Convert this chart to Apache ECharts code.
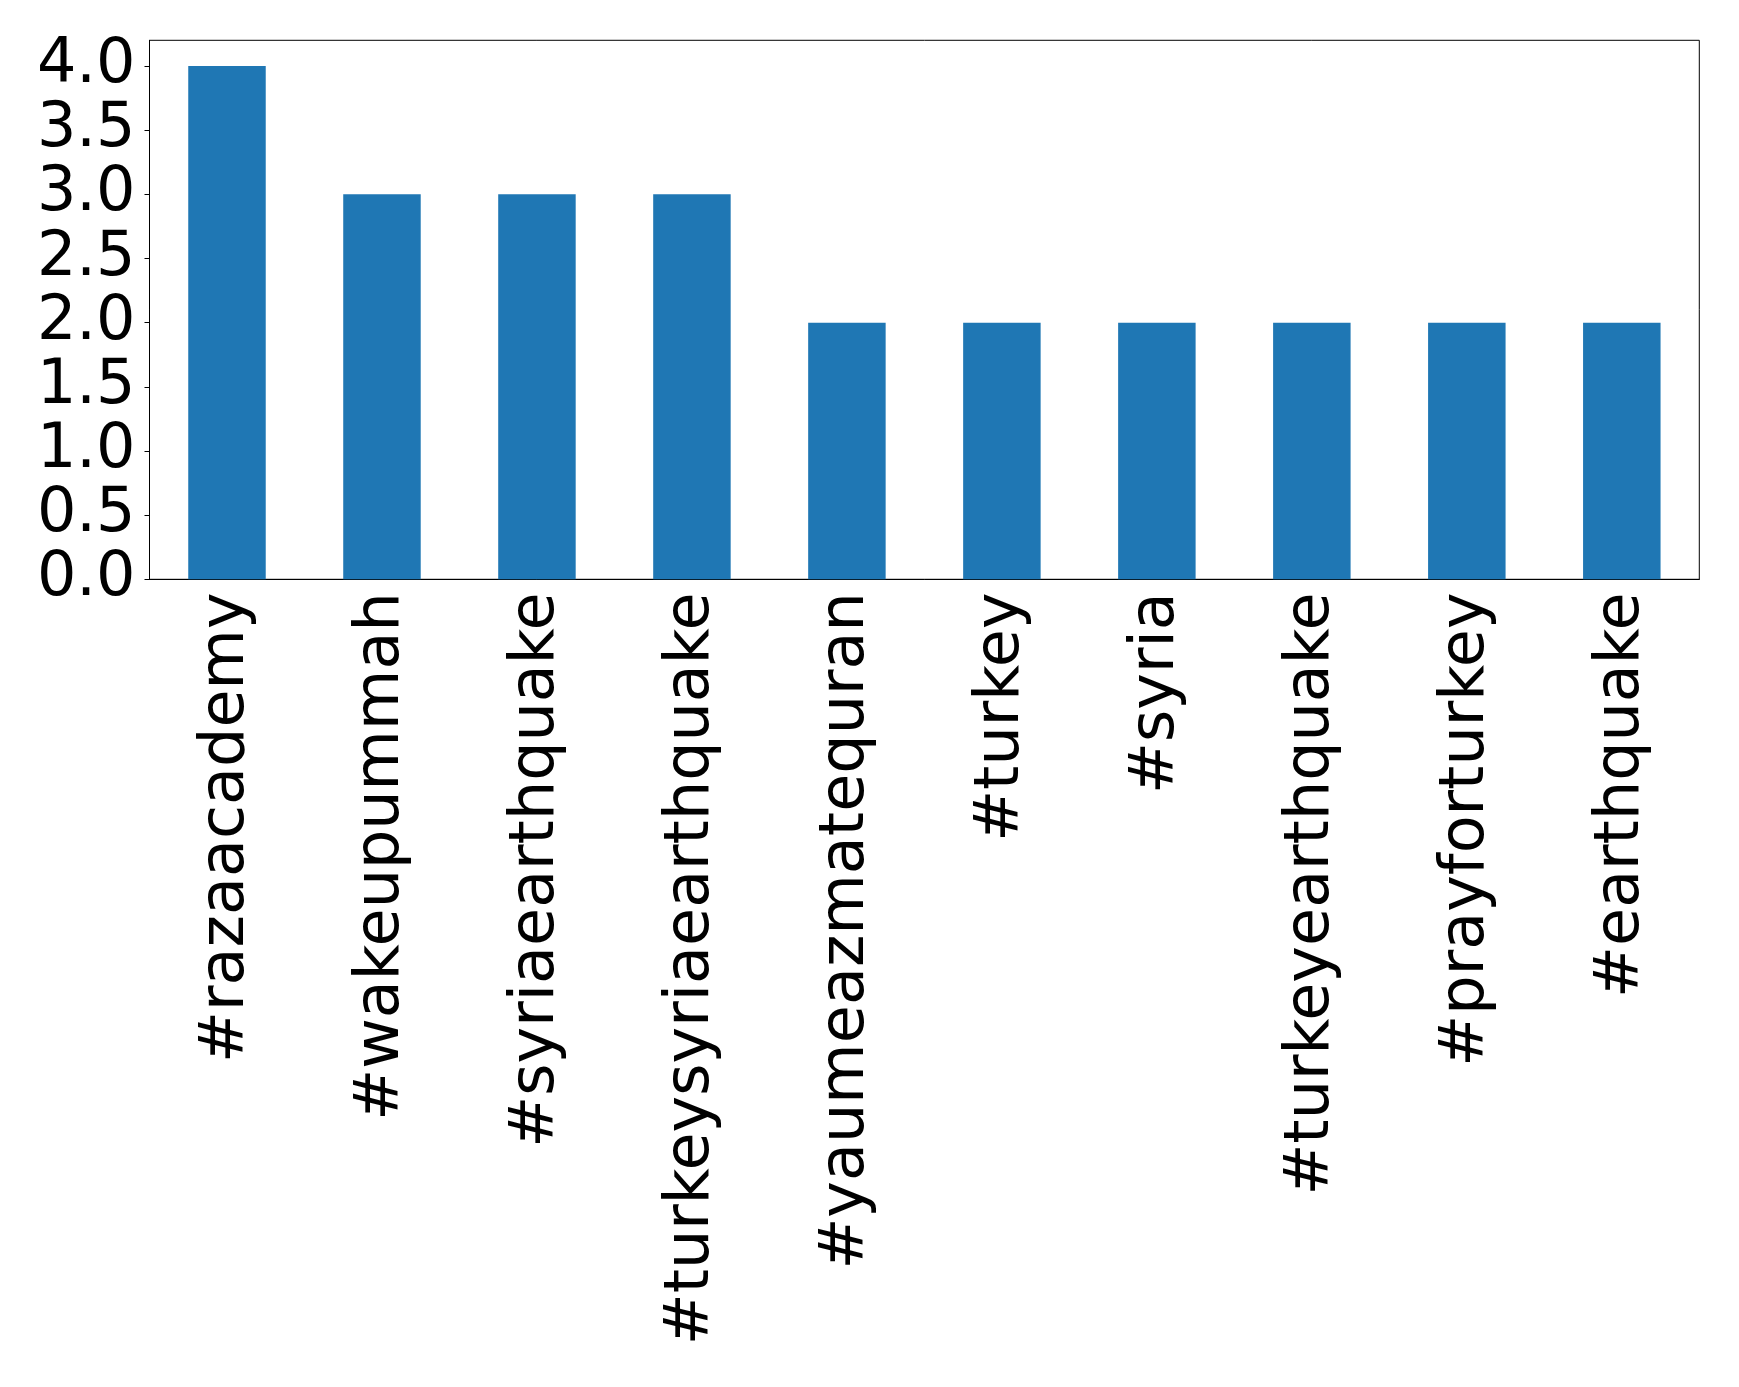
<!DOCTYPE html>
<html>
<head>
<meta charset="utf-8">
<script src="https://cdn.jsdelivr.net/npm/echarts@6/dist/echarts.min.js"></script>
<style>html,body{margin:0;padding:0;background:#fff}#c{width:1739px;height:1387px}</style>
</head>
<body>
<div id="c"></div>
<script>
var categories = ['#razaacademy', '#wakeupummah', '#syriaearthquake', '#turkeysyriaearthquake', '#yaumeazmatequran', '#turkey', '#syria', '#turkeyearthquake', '#prayforturkey', '#earthquake'];
var values = [4, 3, 3, 3, 2, 2, 2, 2, 2, 2];
var yTicks = [0, 0.5, 1.0, 1.5, 2.0, 2.5, 3.0, 3.5, 4.0];

var chart = echarts.init(document.getElementById('c'), null, {renderer: 'canvas'});
chart.setOption({
  animation: false,
  backgroundColor: '#ffffff',
  textStyle: {fontFamily: 'DejaVu Sans'},
  grid: {left: 149.5, right: 39.7, top: 40.3, bottom: 807.7, show: true, borderColor: '#000', borderWidth: 1, backgroundColor: 'transparent'},
  xAxis: {
    type: 'category',
    data: categories,
    boundaryGap: true,
    axisLine: {lineStyle: {color: '#000', width: 1}},
    axisTick: {alignWithLabel: true, length: 5, lineStyle: {color: '#000', width: 1}},
    axisLabel: {rotate: 90, interval: 0, margin: 13, fontSize: 62, color: '#000', fontFamily: 'DejaVu Sans'}
  },
  yAxis: {
    type: 'value',
    min: 0, max: 4.2,
    splitLine: {show: false},
    axisLine: {show: true, lineStyle: {color: '#000', width: 1}},
    axisTick: {show: true, length: 5, customValues: yTicks, lineStyle: {color: '#000', width: 1}},
    axisLabel: {customValues: yTicks, margin: 14, fontSize: 62, color: '#000', fontFamily: 'DejaVu Sans',
      formatter: function (v) { return v.toFixed(1); }}
  },
  series: [{
    type: 'bar',
    data: values,
    barWidth: '50%',
    itemStyle: {color: '#1f77b4'}
  }]
});
</script>
</body>
</html>
